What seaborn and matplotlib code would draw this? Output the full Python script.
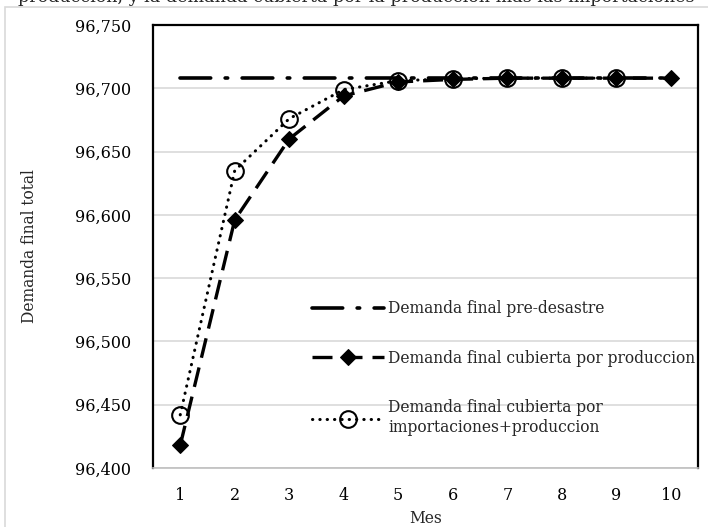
import matplotlib
matplotlib.use("Agg")
import matplotlib.pyplot as plt
import seaborn as sns
import pandas as pd
from matplotlib.patches import Rectangle

meses = [1, 2, 3, 4, 5, 6, 7, 8, 9, 10]
pre_desastre = [96708] * 10
produccion = [96418, 96596, 96660, 96694, 96705, 96707, 96708, 96708, 96708, 96708]
meses_imp = [1, 2, 3, 4, 5, 6, 7, 8, 9]
importaciones = [96442, 96635, 96676, 96699, 96706, 96707.5, 96708, 96708, 96708]

etiquetas = ["Demanda final pre-desastre",
             "Demanda final cubierta por produccion",
             "Demanda final cubierta por\nimportaciones+produccion"]
y_ticks = [96400, 96450, 96500, 96550, 96600, 96650, 96700, 96750]

sns.set_theme(style="white")
plt.rcParams['font.family'] = ['DejaVu Serif']

fig = plt.figure(figsize=(7.08, 5.27), dpi=100)
ax = fig.add_axes([153/708, 1 - 468/527, (698 - 153)/708, (468 - 25)/527])

df_pre = pd.DataFrame({"Mes": meses, "v": pre_desastre})
df_prod = pd.DataFrame({"Mes": meses, "v": produccion})
df_imp = pd.DataFrame({"Mes": meses_imp, "v": importaciones})

sns.lineplot(data=df_pre, x="Mes", y="v", ax=ax, color="black", lw=2.6,
             linestyle=(0, (8.5, 4, 0.7, 4)), label=etiquetas[0],
             dash_capstyle="round")
sns.lineplot(data=df_imp, x="Mes", y="v", ax=ax, color="black", lw=2.2,
             linestyle=(0, (0.1, 2.3)), dash_capstyle="round",
             marker="o", markersize=12, markerfacecolor="none",
             markeredgecolor="black", markeredgewidth=1.5, label=etiquetas[2])
sns.lineplot(data=df_prod, x="Mes", y="v", ax=ax, color="black", lw=2.4,
             linestyle=(0, (6, 3)), marker="D", markersize=8,
             markerfacecolor="black", markeredgecolor="black", label=etiquetas[1])

ax.set_xlim(0.5, 10.5)
ax.set_ylim(96400, 96750)
ax.set_xticks(meses)
ax.set_yticks(y_ticks)
ax.set_yticklabels([f"{t:,}" for t in y_ticks])
ax.tick_params(axis="both", length=0, labelsize=11.5, colors="black")
ax.tick_params(axis="y", pad=16)
ax.tick_params(axis="x", pad=14)
ax.yaxis.grid(True, color="#D9D9D9", lw=1.2)
ax.xaxis.grid(False)
ax.set_axisbelow(True)
for s in ["left", "top", "right"]:
    ax.spines[s].set_color("black")
    ax.spines[s].set_linewidth(1.6)
ax.spines["bottom"].set_color("#BFBFBF")
ax.spines["bottom"].set_linewidth(1.2)

ax.set_xlabel("Mes", fontsize=11.2, labelpad=4)
ax.set_ylabel("Demanda final total", fontsize=11.2, labelpad=26)

h, l = ax.get_legend_handles_labels()
order = [l.index(e) for e in etiquetas]
ax.legend([h[i] for i in order], [l[i] for i in order],
          loc="upper left", bbox_to_anchor=((312 - 153)/545, 1 - (300 - 25)/443),
          frameon=False, fontsize=11.2, handlelength=4.6, handletextpad=0.3,
          labelspacing=2.1, numpoints=1, borderaxespad=0, borderpad=0)

fig.patches.append(Rectangle((5/708, -0.01), 1.0, 1 - 7/527 + 0.01,
                             transform=fig.transFigure, fill=False,
                             edgecolor="#D9D9D9", lw=1.2))
fig.text(18/708, 1 - 1.5/527, "produccion, y la demanda cubierta por la produccion mas las importaciones",
         fontsize=12.6, va="baseline", ha="left")

fig.savefig("out.png", dpi=100)
